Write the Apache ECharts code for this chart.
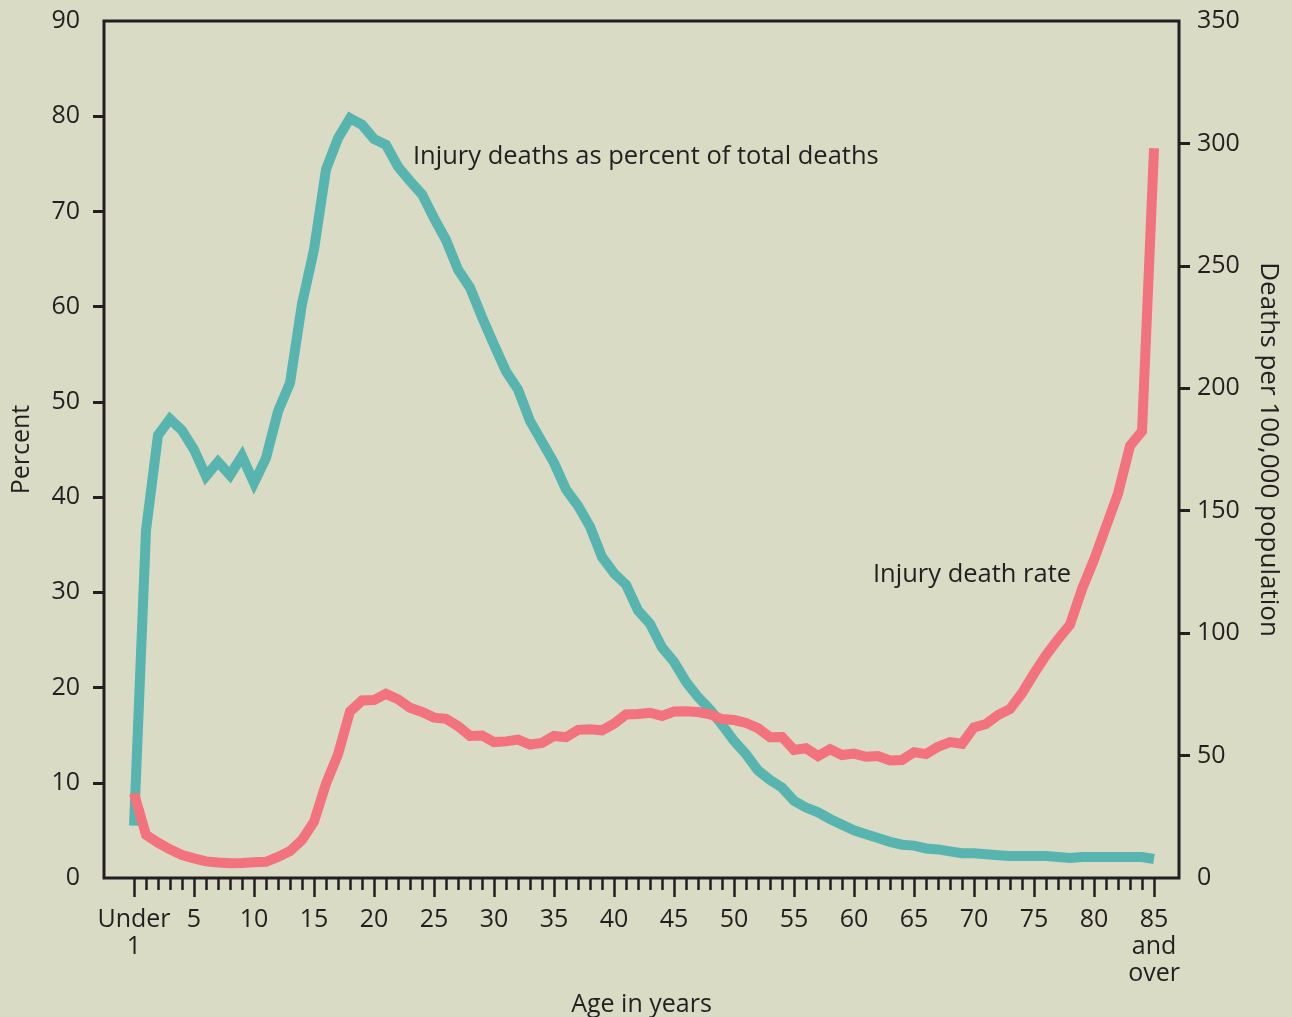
<!DOCTYPE html>
<html>
<head>
<meta charset="utf-8">
<script src="https://cdn.jsdelivr.net/npm/echarts@6/dist/echarts.min.js"></script>
<style>
  html, body { margin: 0; padding: 0; background: #dadbc5; }
  #chart { width: 1292px; height: 1017px; }
</style>
</head>
<body>
<div id="chart"></div>
<script>
// ages 0 (Under 1) .. 85 (85 and over)
const ages = Array.from({ length: 86 }, (_, i) => i)

// Injury deaths as percent of total deaths (left axis)
const percentOfDeaths = [
  5.5, 36.5, 46.5, 48.2, 47.0, 45.0, 42.2, 43.7, 42.3, 44.3,
  41.5, 44.1, 49.0, 52.0, 60.3, 66.0, 74.4, 77.7, 79.8, 79.1,
  77.6, 77.0, 74.7, 73.2, 71.8, 69.3, 67.0, 63.9, 62.0, 58.9,
  56.0, 53.2, 51.3, 48.0, 45.8, 43.6, 40.8, 39.1, 36.9, 33.7,
  32.0, 30.8, 28.1, 26.7, 24.2, 22.7, 20.6, 19.0, 17.7, 16.1,
  14.4, 13.0, 11.3, 10.3, 9.5, 8.1, 7.4, 6.9, 6.2, 5.6,
  5.0, 4.6, 4.2, 3.8, 3.5, 3.4, 3.1, 3.0, 2.8, 2.6,
  2.6, 2.5, 2.4, 2.3, 2.3, 2.3, 2.3, 2.2, 2.1, 2.2,
  2.2, 2.2, 2.2, 2.2, 2.2, 2.0
]

// Injury death rate per 100,000 population (right axis)
const deathRate = [
  34.6, 17.6, 14.4, 11.7, 9.4, 8.0, 6.8, 6.3, 6.0, 6.1,
  6.4, 6.6, 8.6, 11.0, 15.5, 23.0, 38.5, 50.5, 68.0, 72.5,
  72.7, 75.2, 73.0, 69.5, 67.8, 65.5, 65.0, 62.0, 58.0, 58.2,
  55.5, 55.8, 56.5, 54.5, 55.2, 58.0, 57.5, 60.5, 60.7, 60.3,
  63.0, 66.8, 67.0, 67.5, 66.2, 68.0, 68.1, 67.8, 66.8, 64.9,
  64.5, 63.3, 61.2, 57.5, 57.6, 52.3, 53.0, 49.8, 52.6, 50.2,
  50.8, 49.5, 49.8, 48.0, 48.2, 51.4, 50.6, 53.6, 55.5, 54.8,
  61.5, 62.9, 66.6, 69.0, 75.5, 83.5, 91.0, 97.5, 103.5, 118.0,
  130.0, 143.5, 157.0, 176.5, 182.5, 298.0
]

const majorTicks = ages.filter((a) => a % 5 === 0)
const minorTicks = ages.filter((a) => a % 5 !== 0)
const leftTicks = [10, 20, 30, 40, 50, 60, 70, 80]
const rightTicks = [50, 100, 150, 200, 250, 300]

const ink = '#231f20'
const font = 'Open Sans'

const chart = echarts.init(document.getElementById('chart'))

chart.setOption({
  backgroundColor: '#dadbc5',
  textStyle: { fontFamily: font, color: ink },
  grid: {
    left: 104,
    right: 113,
    top: 21,
    bottom: 139,
    outerBoundsMode: 'none',
    containLabel: false,
    show: true,
    borderColor: ink,
    borderWidth: 3,
    backgroundColor: 'transparent'
  },
  xAxis: [
    {
      type: 'value',
      min: -2.5,
      max: 87.08,
      position: 'bottom',
      name: 'Age in years',
      nameLocation: 'middle',
      nameGap: 109,
      nameTextStyle: { fontSize: 25, color: ink, fontFamily: font },
      axisLine: { show: false, onZero: false },
      splitLine: { show: false },
      axisTick: {
        show: true,
        customValues: majorTicks,
        length: 19,
        lineStyle: { color: ink, width: 2.5 }
      },
      axisLabel: {
        customValues: majorTicks,
        margin: 28,
        fontSize: 25,
        lineHeight: 27,
        color: ink,
        fontFamily: font,
        formatter: (v) => (v === 0 ? 'Under\n1' : v === 85 ? '85\nand\nover' : String(v))
      }
    },
    {
      type: 'value',
      min: -2.5,
      max: 87.08,
      position: 'bottom',
      axisLine: { show: false, onZero: false },
      splitLine: { show: false },
      axisLabel: { show: false },
      axisTick: {
        show: true,
        customValues: minorTicks,
        length: 12,
        lineStyle: { color: ink, width: 2.5 }
      }
    }
  ],
  yAxis: [
    {
      type: 'value',
      min: 0,
      max: 90,
      interval: 10,
      position: 'left',
      name: 'Percent',
      nameLocation: 'middle',
      nameGap: 70,
      nameRotate: 90,
      nameTextStyle: { fontSize: 25, color: ink, fontFamily: font },
      axisLine: { show: false, onZero: false },
      splitLine: { show: false },
      axisTick: {
        show: true,
        customValues: leftTicks,
        length: 11,
        lineStyle: { color: ink, width: 3 }
      },
      axisLabel: { margin: 24, fontSize: 25, color: ink, fontFamily: font }
    },
    {
      type: 'value',
      min: 0,
      max: 350,
      interval: 50,
      position: 'right',
      name: 'Deaths per 100,000 population',
      nameLocation: 'middle',
      nameGap: 76,
      nameRotate: -90,
      nameTextStyle: { fontSize: 26, color: ink, fontFamily: font },
      axisLine: { show: false, onZero: false },
      splitLine: { show: false },
      axisTick: {
        show: true,
        customValues: rightTicks,
        length: 11,
        lineStyle: { color: ink, width: 3 }
      },
      axisLabel: { margin: 18, fontSize: 25, color: ink, fontFamily: font }
    }
  ],
  graphic: [
    {
      type: 'text',
      left: 413,
      top: 144,
      style: { text: 'Injury deaths as percent of total deaths', font: '25.5px "Open Sans"', fill: ink }
    },
    {
      type: 'text',
      left: 873,
      top: 562,
      style: { text: 'Injury death rate', font: '25.5px "Open Sans"', fill: ink }
    }
  ],
  series: [
    {
      name: 'Injury deaths as percent of total deaths',
      type: 'line',
      xAxisIndex: 0,
      yAxisIndex: 0,
      data: ages.map((a, i) => [a, percentOfDeaths[i]]),
      symbol: 'none',
      lineStyle: { color: '#58b4af', width: 10, join: 'miter', cap: 'butt' },
      animation: false
    },
    {
      name: 'Injury death rate',
      type: 'line',
      xAxisIndex: 0,
      yAxisIndex: 1,
      data: ages.map((a, i) => [a, deathRate[i]]),
      symbol: 'none',
      lineStyle: { color: '#f2727d', width: 10, join: 'miter', cap: 'butt' },
      animation: false
    }
  ]
})
</script>
</body>
</html>
